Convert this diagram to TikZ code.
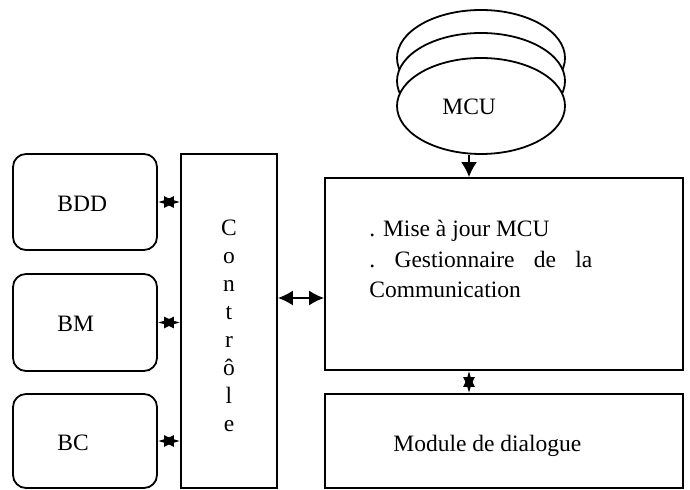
\documentclass[tikz,border=0pt]{standalone}
\usepackage{fontspec}
\setmainfont{Liberation Serif}
\usetikzlibrary{shapes.geometric,arrows.meta}
\begin{document}
\begin{tikzpicture}[x=0.5pt,y=-0.5pt,
  every node/.style={font=\fontsize{11.75pt}{14pt}\selectfont},
  box/.style={draw,line width=0.9pt,rectangle,inner sep=0pt},
  rbox/.style={box,rounded corners=6.5pt},
  disk/.style={draw,line width=0.9pt,ellipse,fill=white,inner sep=0pt,minimum width=84pt,minimum height=48pt},
  lbl/.style={inner sep=0pt,anchor=base west},
  small/.style={line width=0.9pt,{Latex[length=8pt,width=6pt]}-{Latex[length=8pt,width=6pt]}},
  big/.style={line width=0.9pt,{Latex[length=7.5pt,width=7.5pt]}-{Latex[length=7.5pt,width=7.5pt]}},
  down/.style={line width=0.9pt,-{Latex[length=7.5pt,width=8pt]}}]
\fill[white] (0,0) rectangle (690,490);
\useasboundingbox (0,0) rectangle (690,490);
% MCU stack
\node[disk] (mcu1) at (481,58) {};
\node[disk] (mcu2) at (481,81) {};
\node[disk] (mcu3) at (481,106) {};
\node[lbl] (mcut) at (442,115) {MCU};
% left boxes
\node[rbox,minimum width=72pt,minimum height=48pt] (bdd) at (85,202) {};
\node[rbox,minimum width=72pt,minimum height=48.5pt] (bm) at (85,322.5) {};
\node[rbox,minimum width=72pt,minimum height=47pt] (bc) at (85,441) {};
\node[lbl] (bddt) at (57,211.5) {BDD};
\node[lbl] (bmt) at (57,331.5) {BM};
\node[lbl] (bct) at (57,451) {BC};
% controle
\node[box,minimum width=48pt,minimum height=167pt] (ctrl) at (229,321) {};
\node[inner sep=0pt,align=center] (ctrlt) at (229,326) {C\\o\\n\\t\\r\\ô\\l\\e};
% main box
\node[box,minimum width=179pt,minimum height=96pt] (main) at (504,274) {};
\node[lbl] (l1) at (369,237) {. Mise à jour MCU};
\node[lbl] (l2) at (369,268) {\makebox[111.5pt][s]{.\ Gestionnaire de la}};
\node[lbl] (l3) at (369,298) {Communication};
% module
\node[box,minimum width=179pt,minimum height=47pt] (mod) at (504,441) {};
\node[lbl] (modt) at (393,451.5) {Module de dialogue};
% connectors
\coordinate (mx) at (469,0);
\coordinate (cy) at (0,298);
\draw[down] (mx |- mcu3.south) -- (mx |- main.north);
\draw[small] (bdd.east) -- (bdd.east -| ctrl.west);
\draw[small] (bm.east) -- (bm.east -| ctrl.west);
\draw[small] (bc.east) -- (bc.east -| ctrl.west);
\draw[big] (ctrl.east |- cy) -- (main.west |- cy);
\draw[small] (mx |- main.south) -- (mx |- mod.north);
\end{tikzpicture}
\end{document}
